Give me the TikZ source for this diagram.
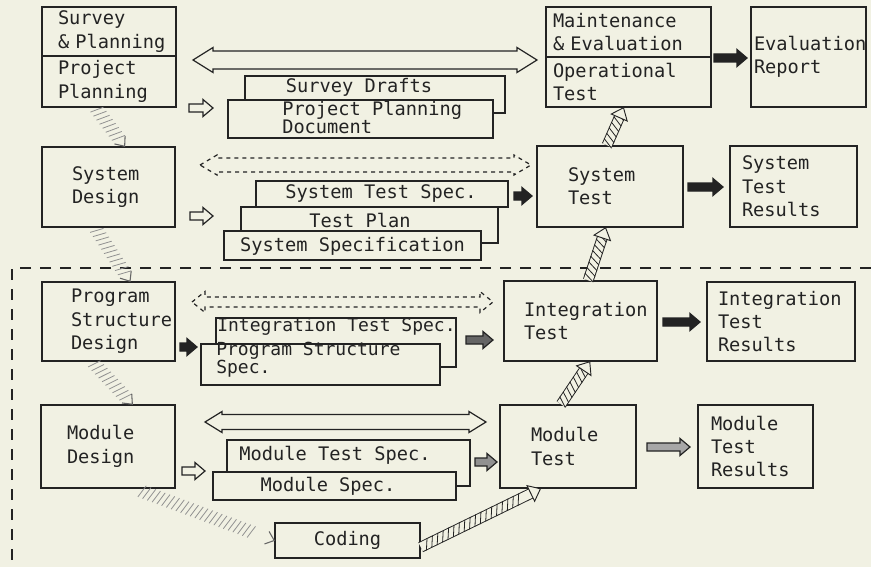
\documentclass[tikz,border=0pt]{standalone}
\usepackage{fontspec}
\setmonofont{DejaVu Sans Mono}
\usetikzlibrary{decorations.markings, calc}
\definecolor{bg}{RGB}{241,241,227}
\definecolor{ink}{RGB}{35,35,35}
\newlength\pxu \setlength\pxu{0.75pt}
\newcommand\dfont{\ttfamily\fontsize{14pt}{17.5pt}\selectfont}
\newcommand\dfontB{\ttfamily\fontsize{14pt}{13pt}\selectfont}
\newcommand\dfontC{\ttfamily\fontsize{13.5pt}{11.3pt}\selectfont}
% block double arrow: [opt]{x1}{x2}{y}{shaft half}{head half}{head length}
\newcommand\mybdarrow[7][]{%
 \draw[blk,#1] (#2,#4) -- ({#2+#7},{#4-#6}) -- ({#2+#7},{#4-#5}) -- ({#3-#7},{#4-#5}) -- ({#3-#7},{#4-#6}) -- (#3,#4) -- ({#3-#7},{#4+#6}) -- ({#3-#7},{#4+#5}) -- ({#2+#7},{#4+#5}) -- ({#2+#7},{#4+#6}) -- cycle;}
% small block arrow: [opt]{x1}{x2}{y}
\newcommand\mysarrow[4][]{%
 \draw[blk,#1] (#2,{#4-4}) -- ({#3-10},{#4-4}) -- ({#3-10},{#4-8.5}) -- (#3,#4) -- ({#3-10},{#4+8.5}) -- ({#3-10},{#4+4}) -- (#2,{#4+4}) -- cycle;}
% hatched band upwards (right side)
\newcommand\hatchup[2]{%
 \draw[ink, line width=0.7pt, double=bg, double distance=9\pxu, shorten >=8\pxu] (#1) -- (#2);
 \path[decorate, decoration={markings,
   mark=between positions 0.05 and 0.86 step 4.5pt with {\draw[ink, line width=0.6pt] (-2.2pt,-4pt) -- (2.2pt,4pt);},
   mark=at position 1 with {\draw[ink, fill=bg, line width=0.7pt] (-8pt,-6.5pt) -- (0pt,0pt) -- (-8pt,6.5pt) -- cycle;}}] (#1) -- (#2);}
% faint hatched band downwards (left side)
\newcommand\hatchdown[2]{%
 \path[decorate, decoration={markings,
   mark=between positions 0.05 and 0.86 step 3.8pt with {\draw[ink!50, line width=0.6pt] (-1.5pt,-5pt) -- (1.5pt,5pt);},
   mark=at position 1 with {\draw[ink!70, line width=0.8pt] (-6pt,-5pt) -- (0pt,0pt) -- (-6pt,5pt);}}] (#1) -- (#2);}

\begin{document}
\begin{tikzpicture}[x=0.75pt,y=-0.75pt,
 box/.style={draw=ink, line width=1.1pt, fill=bg, inner sep=0pt, align=left, font=\dfont, text=ink},
 doc/.style={draw=ink, line width=1.1pt, fill=bg, inner sep=0pt},
 txt/.style={inner sep=0pt, font=\dfont, text=ink},
 blk/.style={draw=ink, line width=0.9pt, fill=bg, line join=miter},
]
\fill[bg] (0,0) rectangle (871,567);
\useasboundingbox (0,0) rectangle (871,567);

% separator
\draw[ink, line width=0.9pt, dash pattern=on 8pt off 7pt] (871,268) -- (12,268) -- (12,567);

% left column
\node[box, minimum width=134\pxu, minimum height=49\pxu, text width=102\pxu] (sp1) at (109,31.5) {Survey\\\mbox{\& Planning}};
\node[box, minimum width=134\pxu, minimum height=51\pxu, text width=102\pxu] (sp2) at (109,81.5) {Project\\Planning};
\node[box, minimum width=133\pxu, minimum height=80\pxu, text width=73\pxu] (sd) at (108.5,187) {System\\Design};
\node[box, minimum width=133\pxu, minimum height=79\pxu, text width=75\pxu] (psd) at (108.5,321.5) {Program\\Structure\\Design};
\node[box, minimum width=134\pxu, minimum height=83\pxu, text width=82\pxu] (md) at (108,446.5) {Module\\Design};

% right columns
\node[box, minimum width=165\pxu, minimum height=50\pxu, text width=151\pxu] (me1) at (628.5,32) {Maintenance\\\mbox{\& Evaluation}};
\node[box, minimum width=165\pxu, minimum height=50\pxu, text width=151\pxu] (me2) at (628.5,82) {Operational\\Test};
\node[box, minimum width=115\pxu, minimum height=100\pxu, text width=109\pxu] (er) at (808.5,57) {Evaluation\\Report};
\node[box, minimum width=146\pxu, minimum height=81\pxu, text width=84\pxu] (st) at (610,186.5) {System\\Test};
\node[box, minimum width=127\pxu, minimum height=81\pxu, text width=103\pxu] (str) at (793.5,186.5) {System\\Test\\Results};
\node[box, minimum width=153\pxu, minimum height=80\pxu, text width=113\pxu] (it) at (580.5,321) {Integration\\Test};
\node[box, minimum width=148\pxu, minimum height=79\pxu, text width=126\pxu] (itr) at (781,321.5) {Integration\\Test\\Results};
\node[box, minimum width=136\pxu, minimum height=83\pxu, text width=74\pxu] (mt) at (568,446.5) {Module\\Test};
\node[box, minimum width=115\pxu, minimum height=83\pxu, text width=89\pxu] (mtr) at (755.5,446.5) {Module\\Test\\Results};
\node[box, align=center, minimum width=145\pxu, minimum height=35\pxu] (coding) at (347.5,540.5) {Coding};

% document stacks
\node[doc, minimum width=260\pxu, minimum height=37\pxu] (sds) at (375,94.5) {};
\node[txt] (sdsT) at (359,87) {Survey Drafts};
\node[doc, minimum width=265\pxu, minimum height=38\pxu] (ppd) at (360.5,119) {};
\node[txt, font=\dfontB, align=left, anchor=west] (ppdT) at (282,117.5) {Project Planning\\Document};

\node[doc, minimum width=252\pxu, minimum height=26\pxu] (sts) at (382,194) {};
\node[txt] (stsT) at (381,194) {System Test Spec.};
\node[doc, minimum width=257\pxu, minimum height=36\pxu] (tp) at (369.5,225) {};
\node[txt] (tpT) at (360,220) {Test Plan};
\node[doc, minimum width=257\pxu, minimum height=29\pxu] (sspec) at (352.5,245.5) {};
\node[txt] (sspecT) at (352.5,246) {System Specification};

\node[doc, minimum width=240\pxu, minimum height=49\pxu] (its) at (336,342.5) {};
\node[txt, font=\dfontC, anchor=west] (itsT) at (217,327) {Integration Test Spec.};
\node[doc, minimum width=239\pxu, minimum height=41\pxu] (pss) at (320.5,364.5) {};
\node[txt, font=\dfontC, align=left, anchor=west] (pssT) at (216,359.5) {Program Structure\\Spec.};

\node[doc, minimum width=243\pxu, minimum height=46\pxu] (mts) at (348.5,463) {};
\node[txt] (mtsT) at (335,455) {Module Test Spec.};
\node[doc, minimum width=243\pxu, minimum height=28\pxu] (ms) at (334.5,486) {};
\node[txt] (msT) at (328,486) {Module Spec.};

% long block arrows between phases
\mybdarrow{193}{537}{60}{9}{12.5}{20}
\mybdarrow[dashed]{200}{531}{165}{7}{10}{17}
\mybdarrow[dashed]{192}{493}{302}{5}{10.5}{13}
\mybdarrow{205}{486}{422}{7.5}{10.5}{17}

% small block arrows
\mysarrow{189}{213}{108}
\mysarrow{190}{213}{216}
\mysarrow[fill=ink]{180}{197}{347}
\mysarrow{182}{205}{471}
\mysarrow[fill=ink]{514}{532}{196}
\mysarrow[fill=ink!70]{466}{493}{340}
\mysarrow[fill=ink!50]{475}{497}{462}
\mysarrow[fill=ink]{714}{747}{58}
\mysarrow[fill=ink]{688}{723}{187}
\mysarrow[fill=ink]{663}{700}{322}
\mysarrow[fill=ink!40]{647}{690}{447}

% hatched connectors, design side (downwards)
\coordinate (g1a) at ($(sp2.south west)!0.4!(sp2.south east)$);
\coordinate (g1b) at ($(sd.north west)!0.62!(sd.north east)$);
\coordinate (g2a) at ($(sd.south west)!0.4!(sd.south east)$);
\coordinate (g2b) at ($(psd.north west)!0.66!(psd.north east)$);
\coordinate (g3a) at ($(psd.south west)!0.38!(psd.south east)$);
\coordinate (g3b) at ($(md.north west)!0.68!(md.north east)$);
\coordinate (g4a) at ($(md.south west)!0.7!(md.south east)$);
\coordinate (g4b) at (coding.west);
\hatchdown{g1a}{g1b}
\hatchdown{g2a}{g2b}
\hatchdown{g3a}{g3b}
\hatchdown{g4a}{g4b}

% hatched connectors, test side (upwards)
\coordinate (h1a) at ([yshift=-5pt]coding.east);
\coordinate (h1b) at ($(mt.south west)!0.3!(mt.south east)$);
\coordinate (h2a) at ($(mt.north west)!0.45!(mt.north east)$);
\coordinate (h2b) at ($(it.south west)!0.56!(it.south east)$);
\coordinate (h3a) at ($(it.north west)!0.55!(it.north east)$);
\coordinate (h3b) at ($(st.south west)!0.47!(st.south east)$);
\coordinate (h4a) at ($(st.north west)!0.48!(st.north east)$);
\coordinate (h4b) at ($(me2.south west)!0.47!(me2.south east)$);
\hatchup{h1a}{h1b}
\hatchup{h2a}{h2b}
\hatchup{h3a}{h3b}
\hatchup{h4a}{h4b}
\end{tikzpicture}
\end{document}
